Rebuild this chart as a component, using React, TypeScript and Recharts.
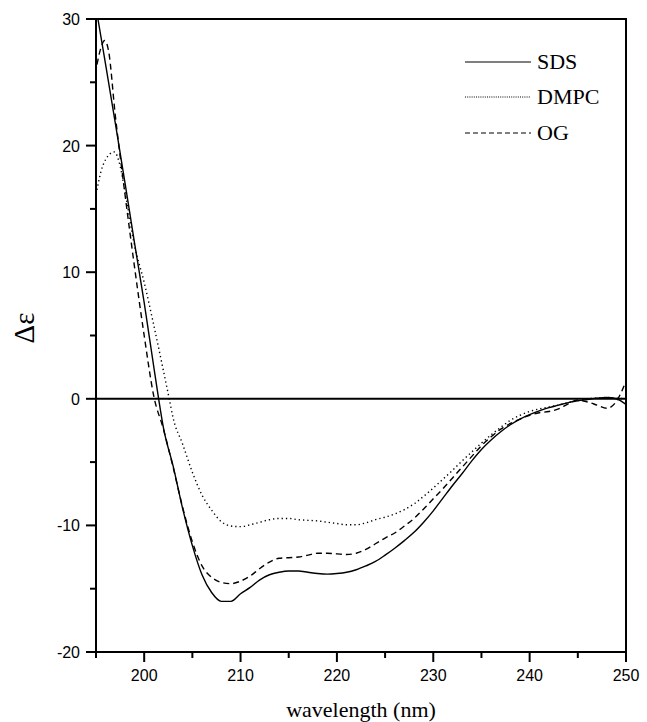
import { LineChart, Line, XAxis, YAxis, ReferenceLine, ReferenceArea, Legend } from 'recharts';

// CD spectra, wavelength (nm) vs delta-epsilon
const sdsNm = [195.2, 196, 197, 198, 199, 200, 201, 201.5, 202, 203, 204, 205, 206, 207, 208, 209, 210, 211, 212, 213, 214, 215, 216, 217, 218, 219, 220, 221, 222, 223, 224, 225, 226, 227, 228, 229, 230, 231, 232, 233, 234, 235, 236, 237, 238, 239, 240, 241, 242, 243, 244, 245, 246, 247, 248, 249, 250];
const sdsDe = [30, 26.4, 21.8, 17.1, 12.3, 7.6, 2.5, 0, -2.3, -5.3, -8.7, -11.6, -13.9, -15.3, -16.0, -16.0, -15.4, -14.9, -14.3, -13.9, -13.7, -13.6, -13.6, -13.7, -13.8, -13.85, -13.8, -13.7, -13.5, -13.2, -12.85, -12.35, -11.8, -11.2, -10.55, -9.75, -8.85, -7.85, -6.85, -5.9, -4.9, -4.0, -3.25, -2.6, -2.05, -1.6, -1.25, -0.95, -0.7, -0.5, -0.3, -0.15, -0.05, 0.05, 0.1, 0.0, -0.45];

const dmpcNm = [195.1, 195.5, 196, 196.9, 197.5, 198, 199, 200, 201, 202, 202.6, 203, 204, 205, 206, 207, 208, 209, 210, 211, 212, 213, 214, 215, 216, 217, 218, 219, 220, 221, 222, 223, 224, 225, 226, 227, 228, 229, 230, 231, 232, 233, 234, 235, 236, 237, 238, 239, 240, 241, 242, 243, 244, 245, 246, 247, 248, 249, 250];
const dmpcDe = [16.5, 17.9, 18.9, 19.5, 18.4, 16.4, 12.1, 9.2, 5.8, 2.2, 0, -1.5, -3.6, -5.8, -7.6, -8.8, -9.7, -10.05, -10.1, -9.95, -9.75, -9.55, -9.45, -9.45, -9.55, -9.6, -9.65, -9.75, -9.85, -9.95, -9.95, -9.8, -9.55, -9.35, -9.1, -8.75, -8.3, -7.7, -7.05, -6.35, -5.65, -4.9, -4.2, -3.5, -2.85, -2.25, -1.7, -1.3, -1.0, -0.8, -0.65, -0.5, -0.3, -0.15, 0, 0.05, 0.1, 0.05, 0];

const ogNm = [195.1, 195.5, 195.9, 196.3, 197, 198, 199, 200, 201, 202, 203, 204, 205, 206, 207, 208, 209, 210, 211, 212, 213, 214, 215, 216, 217, 218, 219, 220, 221, 222, 223, 224, 225, 226, 227, 228, 229, 230, 231, 232, 233, 234, 235, 236, 237, 238, 239, 240, 241, 242, 243, 244, 245, 246, 247, 248, 249, 249.5, 250];
const ogDe = [26.4, 27.7, 28.3, 27.5, 22.4, 16.2, 10.4, 5.0, 0.2, -2.4, -5.4, -8.6, -11.3, -13.2, -14.1, -14.5, -14.6, -14.4, -14.0, -13.4, -12.9, -12.6, -12.55, -12.5, -12.35, -12.2, -12.2, -12.25, -12.3, -12.2, -11.9, -11.45, -11.0, -10.6, -10.05, -9.45, -8.7, -7.9, -7.1, -6.25, -5.4, -4.55, -3.7, -3.0, -2.4, -1.95, -1.6, -1.3, -1.1, -1.0, -0.8, -0.4, -0.1, -0.25, -0.5, -0.75, -0.2, 0.5, 1.4];

const xTicks = [195, 200, 205, 210, 215, 220, 225, 230, 235, 240, 245, 250];
const yTicks = [-20, -15, -10, -5, 0, 5, 10, 15, 20, 25, 30];

const toPoints = (nm: number[], de: number[]) => nm.map((w, i) => ({ nm: w, de: de[i] }));

const series = [
  { name: 'SDS', data: toPoints(sdsNm, sdsDe), dash: undefined, legendDash: undefined },
  { name: 'DMPC', data: toPoints(dmpcNm, dmpcDe), dash: '1.3 3', legendDash: '1 1.2' },
  { name: 'OG', data: toPoints(ogNm, ogDe), dash: '6 4', legendDash: '5 3' },
];

const tickFont = '"Liberation Sans", Arial, sans-serif';
const serif = '"Liberation Serif", "Times New Roman", serif';

const XTick = (props: any) => {
  const { x, y, payload } = props;
  const major = payload.value % 10 === 0;
  return (
    <g>
      <line x1={x} x2={x} y1={y} y2={y + (major ? 10 : 6)} stroke="#000" strokeWidth={2} />
      {major && (
        <text x={x} y={y + 29} textAnchor="middle" fontSize={16} fontFamily={tickFont} fill="#000">
          {payload.value}
        </text>
      )}
    </g>
  );
};

const YTick = (props: any) => {
  const { x, y, payload } = props;
  const major = payload.value % 10 === 0;
  return (
    <g>
      <line x1={x} x2={x - (major ? 10 : 6)} y1={y} y2={y} stroke="#000" strokeWidth={2} />
      {major && (
        <text x={x - 16} y={y + 6} textAnchor="end" fontSize={16} fontFamily={tickFont} fill="#000">
          {payload.value}
        </text>
      )}
    </g>
  );
};

const LegendBox = () => (
  <div>
    {series.map(s => (
      <div key={s.name} style={{ display: 'flex', alignItems: 'center', height: 35.5 }}>
        <svg width={66} height={4} style={{ marginRight: 6 }}>
          <line x1={0} x2={66} y1={2} y2={2} stroke="#000" strokeWidth={1.2} strokeDasharray={s.legendDash} />
        </svg>
        <span style={{ fontFamily: serif, fontSize: 22, color: '#000', lineHeight: 1 }}>{s.name}</span>
      </div>
    ))}
  </div>
);

export default function App() {
  return (
    <div style={{ position: 'absolute', left: 0, top: 0, width: 647, height: 722, background: '#fff' }}>
      <LineChart width={647} height={722} margin={{ top: 19, right: 21, bottom: 69, left: 95 }}>
        <XAxis
          dataKey="nm"
          type="number"
          domain={[195, 250]}
          ticks={xTicks}
          interval={0}
          height={1}
          tickSize={0}
          tickMargin={0}
          axisLine={false}
          tickLine={false}
          tick={(p: any) => <XTick {...p} />}
          allowDataOverflow
        />
        <YAxis
          type="number"
          domain={[-20, 30]}
          ticks={yTicks}
          interval={0}
          width={1}
          tickSize={0}
          tickMargin={0}
          axisLine={false}
          tickLine={false}
          tick={(p: any) => <YTick {...p} />}
          allowDataOverflow
        />
        <ReferenceArea x1={195} x2={250} y1={-20} y2={30} fill="none" stroke="#000" strokeWidth={2} />
        <ReferenceLine y={0} stroke="#000" strokeWidth={2} />
        {series.map(s => (
          <Line
            key={s.name}
            data={s.data}
            dataKey="de"
            name={s.name}
            type="monotone"
            stroke="#000"
            strokeWidth={1.4}
            strokeDasharray={s.dash}
            dot={false}
            activeDot={false}
            isAnimationActive={false}
          />
        ))}
        <Legend
          layout="vertical"
          align="center"
          verticalAlign="middle"
          content={<LegendBox />}
          wrapperStyle={{ position: 'absolute', left: 465, top: 44, width: 170 }}
        />
      </LineChart>
      <div
        style={{
          position: 'absolute', left: 0, width: 647, top: 697, paddingLeft: 75,
          textAlign: 'center', fontFamily: serif, fontSize: 22, color: '#000', boxSizing: 'border-box',
        }}
      >
        wavelength (nm)
      </div>
      <div
        style={{
          position: 'absolute', left: 24, top: 328, transform: 'translate(-50%, -50%) rotate(-90deg)',
          fontFamily: serif, fontSize: 29, color: '#000', whiteSpace: 'nowrap',
        }}
      >
        Δε
      </div>
    </div>
  );
}
